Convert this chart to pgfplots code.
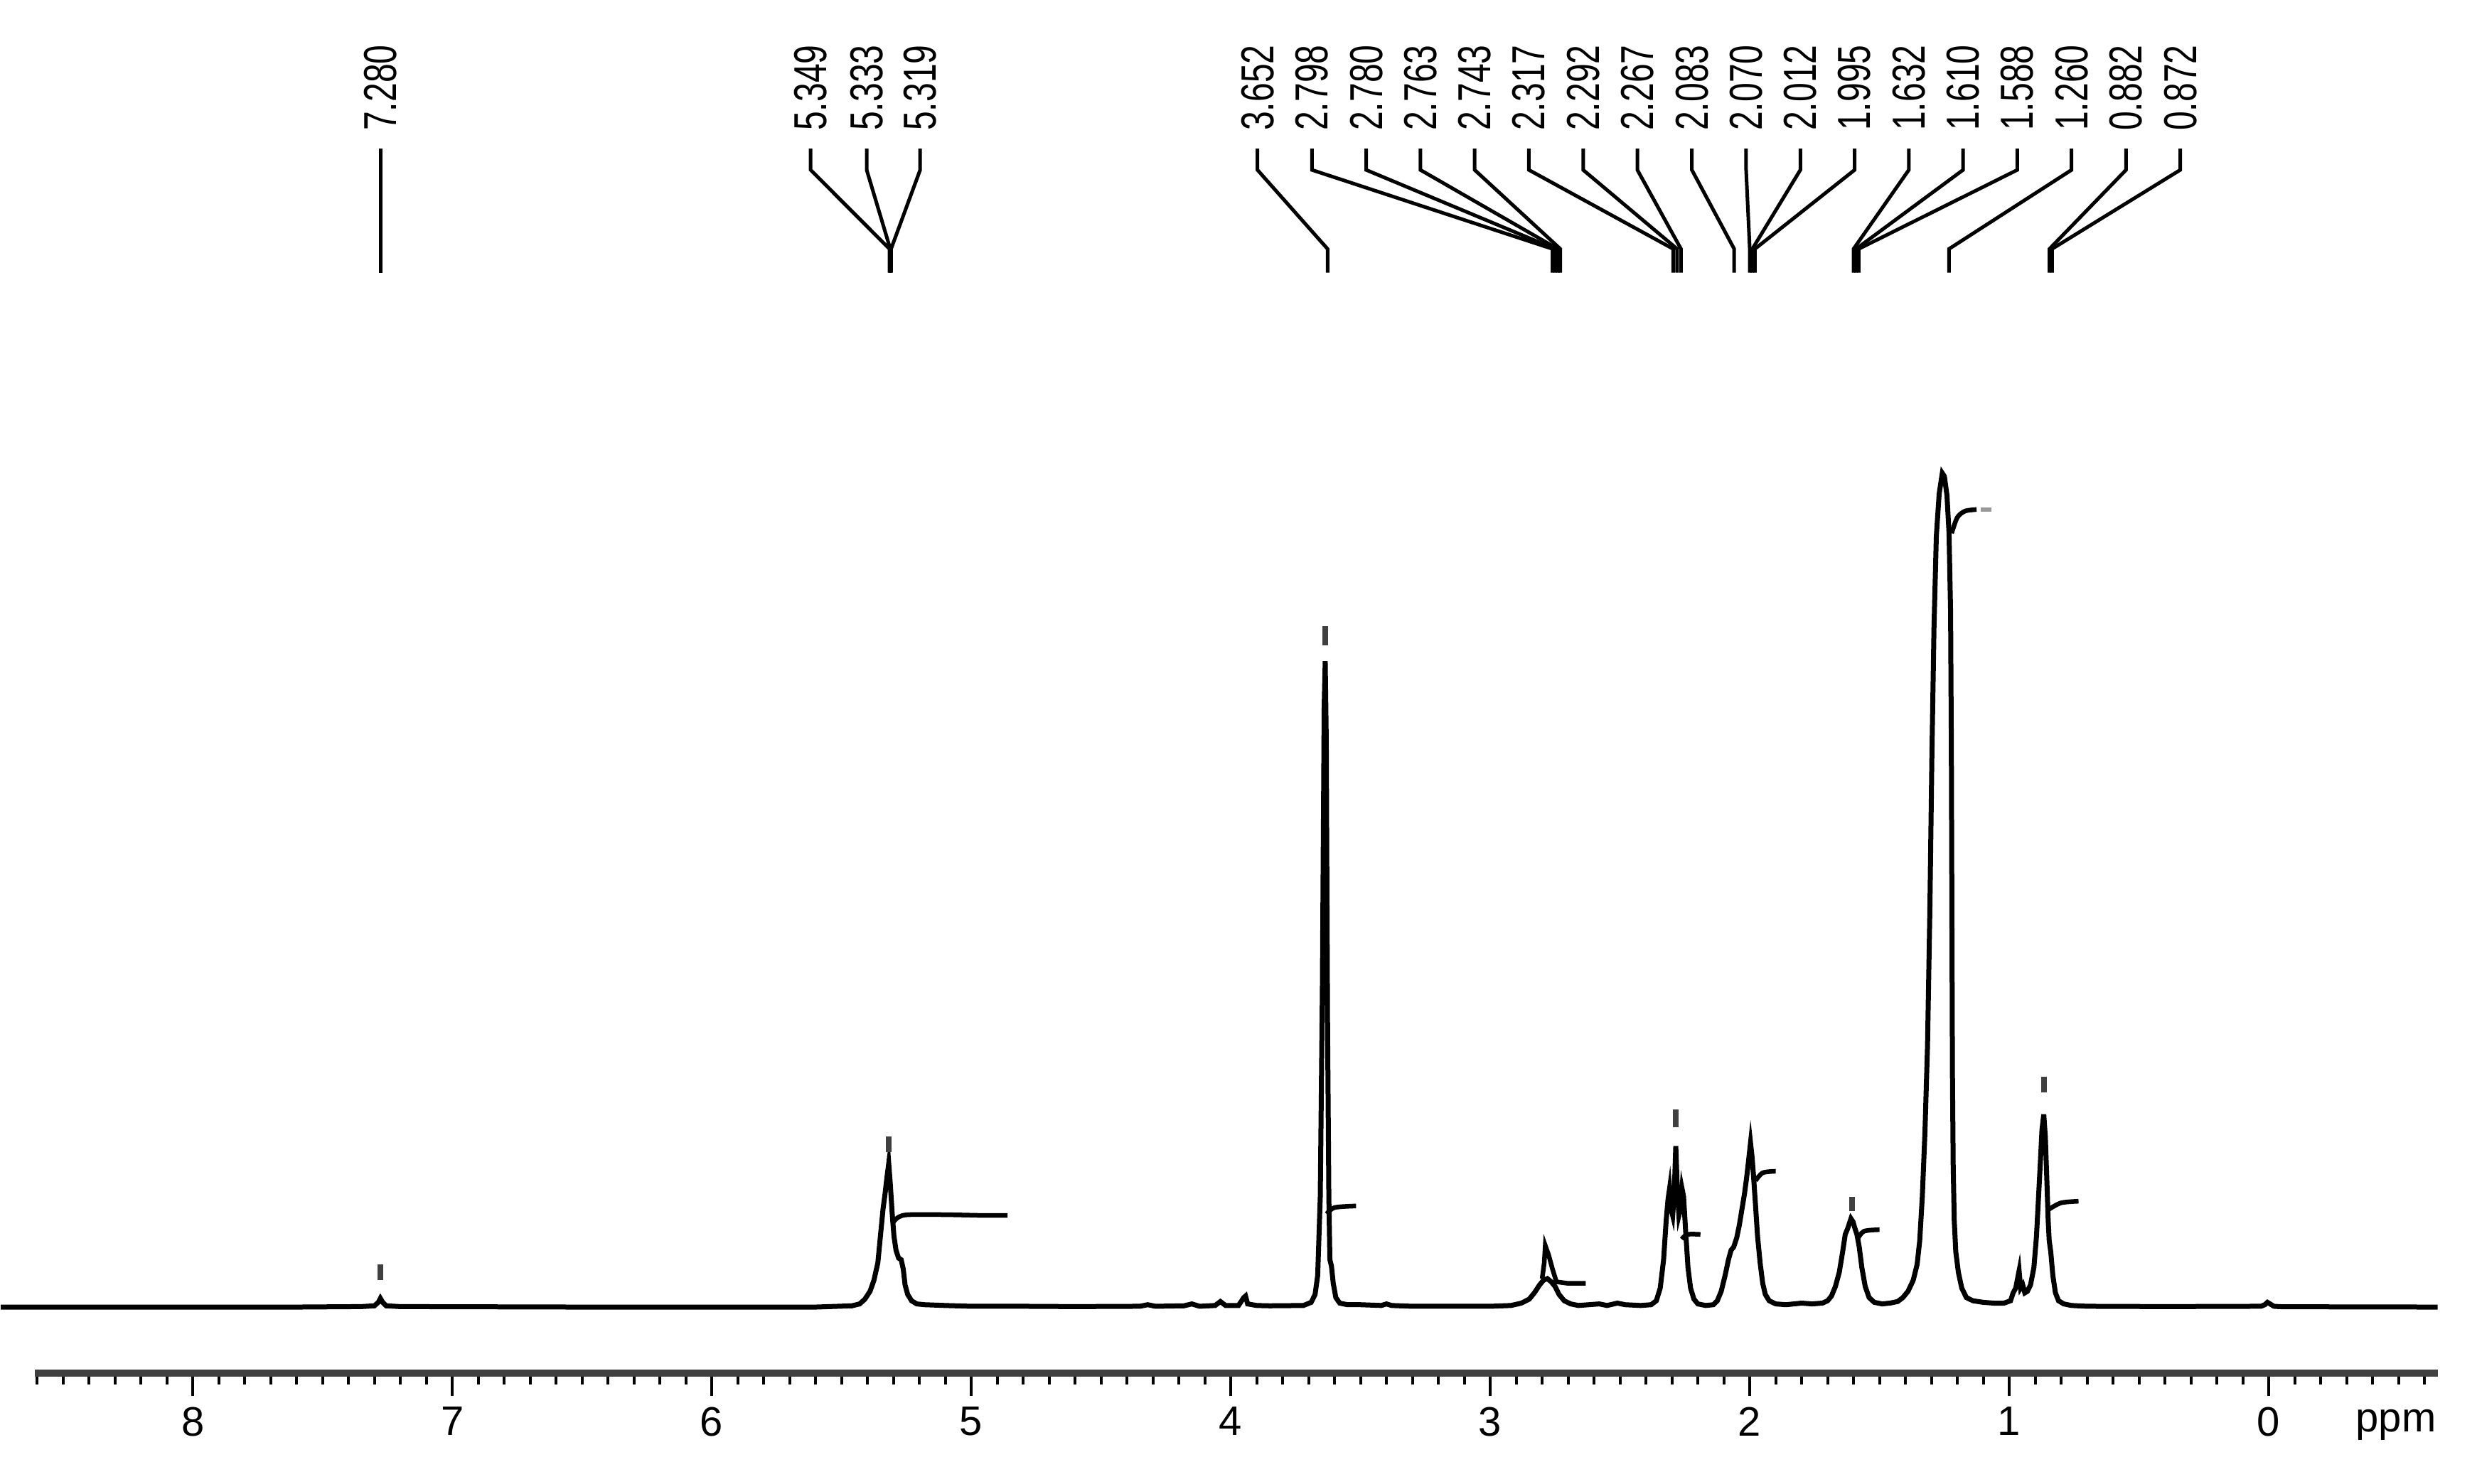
\documentclass[border=0pt]{standalone}
\usepackage{pgfplots}
\pgfplotsset{compat=1.18}
\usepackage{fontspec}
\setmainfont{Liberation Sans}
\newcommand{\lb}[1]{\scalebox{0.74}[1]{#1}}
\tikzset{
  conn/.style={black, line width=0.5pt},
  intg/.style={black, line width=0.65pt, smooth},
  mk/.style={black!75, line width=0.8pt},
  lab/.style={rotate=90, anchor=west, inner sep=0pt, font=\fontsize{6.5}{7}\selectfont},
}
\pgfplotstableread{
x y
8.74 0
7.60 0
7.35 0.3
7.30 0.8
7.285 3
7.277 5.5
7.268 3
7.255 0.8
7.20 0.3
6.50 0
5.60 0
5.46 0.8
5.43 2
5.41 5
5.39 10
5.375 17
5.36 28
5.35 45
5.34 62
5.332 72
5.325 82
5.318 91
5.312 78
5.305 60
5.298 45
5.29 36
5.28 31
5.27 30
5.262 24
5.255 14
5.245 8
5.23 4
5.21 2
5.18 1.5
5.10 1
5.00 0.5
4.80 0.5
4.60 0.3
4.35 0.5
4.32 1.5
4.29 0.5
4.18 0.8
4.15 2
4.12 0.5
4.06 1
4.04 3.5
4.02 1
3.97 1
3.95 6
3.943 7
3.935 2
3.90 1
3.85 0.8
3.72 1
3.69 3
3.675 8
3.665 20
3.655 70
3.647 200
3.640 380
3.636 409
3.632 360
3.627 180
3.622 70
3.618 30
3.612 26
3.605 15
3.595 6
3.58 2.5
3.55 1.5
3.50 1.5
3.42 1
3.40 2
3.38 1
3.30 0.5
3.00 0.5
2.92 1
2.88 2.5
2.85 5
2.83 9
2.81 14
2.795 17
2.78 18
2.765 16
2.75 13
2.735 8
2.715 4
2.69 2
2.66 1
2.62 1.5
2.58 2
2.55 1
2.51 2.5
2.48 1.5
2.42 1
2.38 1.5
2.36 4
2.345 12
2.332 30
2.322 55
2.315 68
2.309 75
2.303 62
2.297 58
2.291 72
2.285 102
2.279 74
2.273 58
2.267 62
2.261 75
2.255 70
2.247 48
2.238 25
2.228 12
2.215 5
2.20 2
2.17 1
2.14 1.5
2.125 4
2.11 10
2.095 20
2.082 30
2.072 36
2.062 38
2.05 44
2.04 52
2.03 62
2.02 72
2.012 82
2.005 92
1.997 104
1.991 95
1.985 82
1.978 65
1.97 45
1.96 28
1.95 15
1.94 8
1.925 4
1.90 2
1.86 1.5
1.80 2.5
1.76 2
1.72 2.5
1.70 4
1.685 7
1.67 13
1.655 22
1.642 35
1.632 46
1.622 50
1.61 56
1.602 54
1.595 50
1.587 46
1.578 38
1.568 25
1.555 13
1.54 6
1.52 3
1.49 2
1.46 2.5
1.43 3.5
1.41 6
1.39 10
1.37 17
1.355 27
1.345 42
1.335 70
1.325 110
1.315 165
1.306 250
1.298 350
1.29 430
1.281 488
1.27 515
1.258 528
1.25 526
1.24 514
1.232 490
1.226 440
1.223 350
1.221 250
1.219 150
1.216 90
1.212 55
1.206 35
1.196 22
1.183 12
1.165 6
1.14 4
1.10 3
1.06 2.5
1.02 2.5
0.995 4
0.985 9
0.975 12
0.968 18
0.962 23
0.956 12
0.948 14
0.94 9
0.93 10
0.918 14
0.905 25
0.895 45
0.887 70
0.880 92
0.874 112
0.867 122
0.861 108
0.855 80
0.850 55
0.846 42
0.840 35
0.832 20
0.822 9
0.81 4
0.79 2
0.76 1
0.70 0.5
0.40 0.3
0.03 0.5
0.015 1.5
0.005 3
-0.005 2
-0.02 0.5
-0.05 0.2
-0.651 0
}\spec
\begin{document}
\begin{tikzpicture}
\begin{axis}[
  at={(4.89pt,15.56pt)}, anchor=south west,
  scale only axis, width=337.98pt, height=193.33pt,
  x dir=reverse, xmin=-0.651, xmax=8.609, ymin=-42, ymax=828,
  axis x line=bottom, axis y line=none,
  x axis line style={-, line width=1pt, black!75},
  xtick={0,1,...,8}, minor xtick={-0.6,-0.5,...,8.6},
  tick align=outside, major tick length=3.2pt, minor tick length=1.6pt,
  every tick/.style={black, line width=0.45pt},
  every minor tick/.style={black, line width=0.4pt},
  xticklabel style={font=\fontsize{5.8}{6}\selectfont, yshift=2pt},
  /pgf/number format/assume math mode=true,
  clip=false,
]
\addplot[black, line width=0.7pt] table[x=x, y=y] {\spec};
% integral traces
\addplot[intg] coordinates {(5.305,53) (5.28,57) (5.24,58.5) (5.10,58.5) (4.95,58) (4.86,58)};
\addplot[intg] coordinates {(3.630,59) (3.60,63) (3.517,64)};
\addplot[black, line width=0.65pt] coordinates {(2.80,18) (2.792,28) (2.788,39) (2.775,33) (2.76,24) (2.745,16) (2.70,15) (2.632,15)};
\addplot[intg] coordinates {(2.262,43) (2.24,46) (2.19,46)};
\addplot[intg] coordinates {(1.978,80) (1.95,85) (1.90,86)};
\addplot[intg] coordinates {(1.585,43) (1.56,48) (1.50,49)};
\addplot[intg] coordinates {(1.222,490) (1.20,500) (1.17,504) (1.126,505)};
\addplot[black!40, line width=0.6pt] coordinates {(1.11,505) (1.07,505)};
\addplot[intg] coordinates {(0.846,62) (0.80,66) (0.733,67)};
% peak markers
\addplot[mk] coordinates {(7.277,17) (7.277,27)};
\addplot[mk] coordinates {(5.318,98) (5.318,108)};
\addplot[mk] coordinates {(3.636,419) (3.636,431)};
\addplot[mk] coordinates {(2.285,114) (2.285,125)};
\addplot[mk] coordinates {(1.605,61) (1.605,70)};
\addplot[mk] coordinates {(0.867,136) (0.867,146)};
% connector lines
\addplot[conn] coordinates {(7.277,733.5) (7.277,655)};
\addplot[conn] coordinates {(5.619,733.5) (5.619,720) (5.315,670) (5.315,655)};
\addplot[conn] coordinates {(5.403,733.5) (5.403,720) (5.312,670) (5.312,655)};
\addplot[conn] coordinates {(5.197,733.5) (5.197,720) (5.309,670) (5.309,655)};
\addplot[conn] coordinates {(3.897,733.5) (3.897,720) (3.627,670) (3.627,655)};
\addplot[conn] coordinates {(3.687,733.5) (3.687,720) (2.760,670) (2.760,655)};
\addplot[conn] coordinates {(3.478,733.5) (3.478,720) (2.750,670) (2.750,655)};
\addplot[conn] coordinates {(3.269,733.5) (3.269,720) (2.740,670) (2.740,655)};
\addplot[conn] coordinates {(3.060,733.5) (3.060,720) (2.730,670) (2.730,655)};
\addplot[conn] coordinates {(2.851,733.5) (2.851,720) (2.295,670) (2.295,655)};
\addplot[conn] coordinates {(2.642,733.5) (2.642,720) (2.280,670) (2.280,655)};
\addplot[conn] coordinates {(2.433,733.5) (2.433,720) (2.265,670) (2.265,655)};
\addplot[conn] coordinates {(2.223,733.5) (2.223,720) (2.060,670) (2.060,655)};
\addplot[conn] coordinates {(2.014,733.5) (2.014,720) (2.000,670) (2.000,655)};
\addplot[conn] coordinates {(1.805,733.5) (1.805,720) (1.990,670) (1.990,655)};
\addplot[conn] coordinates {(1.596,733.5) (1.596,720) (1.980,670) (1.980,655)};
\addplot[conn] coordinates {(1.387,733.5) (1.387,720) (1.600,670) (1.600,655)};
\addplot[conn] coordinates {(1.178,733.5) (1.178,720) (1.590,670) (1.590,655)};
\addplot[conn] coordinates {(0.969,733.5) (0.969,720) (1.580,670) (1.580,655)};
\addplot[conn] coordinates {(0.760,733.5) (0.760,720) (1.232,670) (1.232,655)};
\addplot[conn] coordinates {(0.550,733.5) (0.550,720) (0.845,670) (0.845,655)};
\addplot[conn] coordinates {(0.341,733.5) (0.341,720) (0.835,670) (0.835,655)};
% labels
\node[lab] at (axis cs:7.277,744) {\lb{7.280}};
\node[lab] at (axis cs:5.619,744) {\lb{5.349}};
\node[lab] at (axis cs:5.403,744) {\lb{5.333}};
\node[lab] at (axis cs:5.197,744) {\lb{5.319}};
\node[lab] at (axis cs:3.897,744) {\lb{3.652}};
\node[lab] at (axis cs:3.687,744) {\lb{2.798}};
\node[lab] at (axis cs:3.478,744) {\lb{2.780}};
\node[lab] at (axis cs:3.269,744) {\lb{2.763}};
\node[lab] at (axis cs:3.060,744) {\lb{2.743}};
\node[lab] at (axis cs:2.851,744) {\lb{2.317}};
\node[lab] at (axis cs:2.642,744) {\lb{2.292}};
\node[lab] at (axis cs:2.433,744) {\lb{2.267}};
\node[lab] at (axis cs:2.223,744) {\lb{2.083}};
\node[lab] at (axis cs:2.014,744) {\lb{2.070}};
\node[lab] at (axis cs:1.805,744) {\lb{2.012}};
\node[lab] at (axis cs:1.596,744) {\lb{1.995}};
\node[lab] at (axis cs:1.387,744) {\lb{1.632}};
\node[lab] at (axis cs:1.178,744) {\lb{1.610}};
\node[lab] at (axis cs:0.969,744) {\lb{1.588}};
\node[lab] at (axis cs:0.760,744) {\lb{1.260}};
\node[lab] at (axis cs:0.550,744) {\lb{0.882}};
\node[lab] at (axis cs:0.341,744) {\lb{0.872}};
\node[anchor=base, inner sep=0pt, font=\fontsize{5.8}{6}\selectfont] at (axis cs:-0.49,-79) {ppm};
\end{axis}
\pgfresetboundingbox
\path[use as bounding box] (0,0) rectangle (348.4pt,208.8pt);
\end{tikzpicture}
\end{document}
